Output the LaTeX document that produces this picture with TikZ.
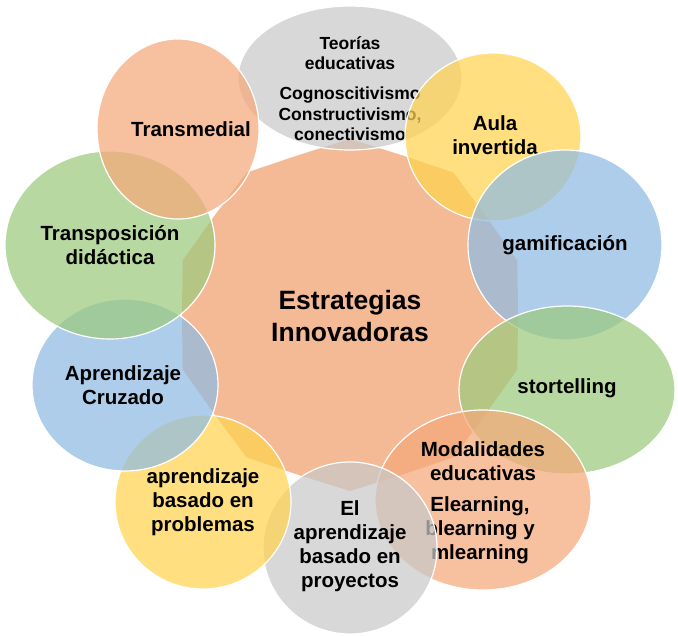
\documentclass[tikz,border=0pt]{standalone}
\usepackage{fontspec}
\setmainfont{Liberation Sans}
\begin{document}
\begin{tikzpicture}[x=1pt,y=-1pt,
  bub/.style={draw=white,line width=1.2pt,fill opacity=0.72},
  lab/.style={font=\bfseries\fontsize{20.5}{24}\selectfont,align=center,text opacity=1},
  slab/.style={font=\bfseries\fontsize{17.5}{20.5}\selectfont,align=center}]
\definecolor{cg}{HTML}{C9C9C9}
\definecolor{cy}{HTML}{FFD34F}
\definecolor{cb}{HTML}{8FBBE3}
\definecolor{cgr}{HTML}{9DCA7E}
\definecolor{co}{HTML}{F4A97A}
\definecolor{cc}{HTML}{F4BA96}
\useasboundingbox (0,0) rectangle (678,636);
\fill[white] (0,0) rectangle (678,636);
% central star
\fill[cc] (350,315) +(90:176)
  \foreach \k in {0,...,9}{ -- +({90-36*\k-18}:168) -- +({90-36*\k-36}:176)} -- cycle;
\node[font=\bfseries\fontsize{26.5}{32}\selectfont,align=center] (ctr) at (350,316) {Estrategias\\Innovadoras};
% bubbles
\fill[cg,bub] (350,78) ellipse[x radius=112,y radius=72];
\node[slab] (t1) at (350,53) {Teorías\\educativas};
\node[slab] (t1b) at (350,114) {Cognoscitivismo\\Constructivismo,\\conectivismo};
\fill[cy,bub] (493,137) ellipse[x radius=88,y radius=84];
\node[lab] (t2) at (495,135) {Aula\\invertida};
\fill[cb,bub] (565,245) ellipse[x radius=97,y radius=95];
\node[lab] (t3) at (565,245) {gamificación};
\fill[cgr,bub] (567,390) ellipse[x radius=108,y radius=84];
\node[lab] (t4) at (567,388) {stortelling};
\fill[co,bub] (483,500) ellipse[x radius=108,y radius=90];
\node[lab] (t5) at (483,461) {Modalidades\\educativas};
\node[lab] (t5b) at (480,530) {Elearning,\\blearning y\\mlearning};
\fill[cg,bub] (350,548) ellipse[x radius=87,y radius=86];
\node[lab] (t6) at (350,546) {El\\aprendizaje\\basado en\\proyectos};
\fill[cy,bub] (203,502) ellipse[x radius=88,y radius=87];
\node[lab] (t7) at (203,502) {aprendizaje\\basado en\\problemas};
\fill[cb,bub] (125,385) ellipse[x radius=93,y radius=86];
\node[lab] (t8) at (123,385) {Aprendizaje\\Cruzado};
\fill[cgr,bub] (110,245) ellipse[x radius=105,y radius=94];
\node[lab] (t9) at (110,245) {Transposición\\didáctica};
\fill[co,bub] (178,129) ellipse[x radius=81,y radius=90];
\node[lab] (t10) at (191,129) {Transmedial};
\end{tikzpicture}
\end{document}
